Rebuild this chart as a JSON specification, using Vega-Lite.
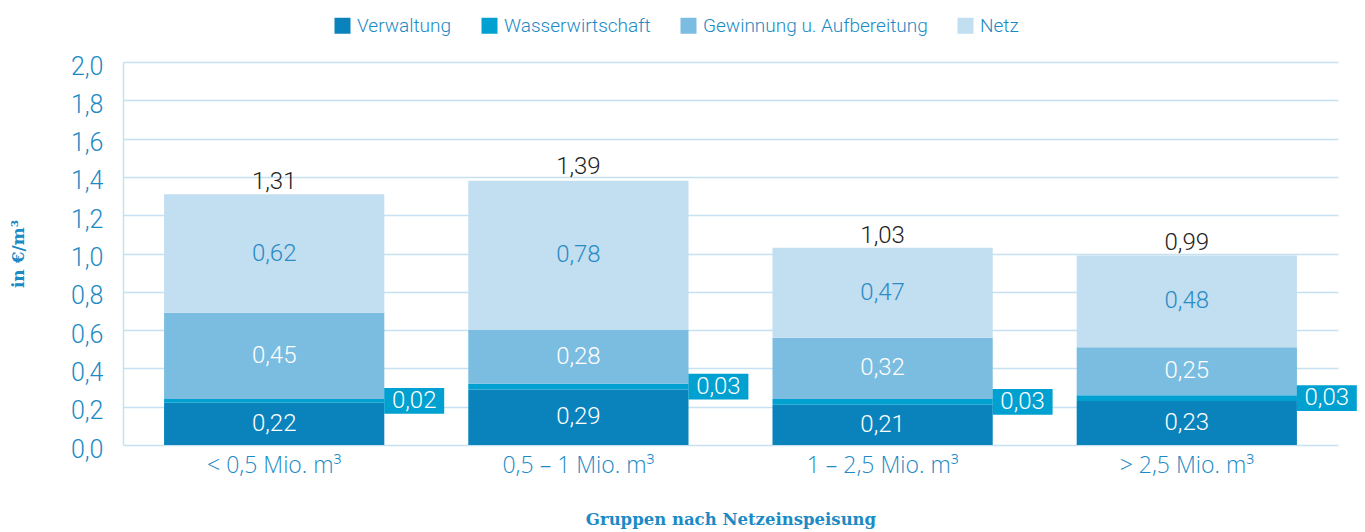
{
  "$schema": "https://vega.github.io/schema/vega-lite/v6.json",
  "width": 1215,
  "height": 383,
  "autosize": "none",
  "padding": {"left": 123, "top": 62, "right": 27, "bottom": 87},
  "background": "white",
  "config": {
    "locale": {"number": {"decimal": ",", "thousands": ".", "grouping": [3], "currency": ["", " €"]}},
    "view": {"stroke": null},
    "font": "Roboto",
    "axisY": {
      "values": [0, 0.2, 0.4, 0.6, 0.8, 1.0, 1.2, 1.4, 1.6, 1.8, 2.0],
      "tickCount": 20,
      "format": ".1f",
      "ticks": false,
      "domain": true,
      "domainColor": "#C8E1F1",
      "domainWidth": 1.5,
      "grid": true,
      "gridColor": "#C8E1F1",
      "gridWidth": 1.5,
      "labelFlush": false,
      "labelOverlap": false,
      "labelFont": "Roboto",
      "labelFontWeight": 300,
      "labelFontSize": 25,
      "labelColor": "#1B8AC5",
      "labelPadding": 20,
      "labelOffset": 4,
      "titleFont": "DejaVu Serif",
      "titleFontWeight": "bold",
      "titleFontSize": 17,
      "titleColor": "#1B8AC5",
      "titlePadding": 43
    }
  },
  "datasets": {
    "parts": [
      {"gruppe": "< 0,5 Mio. m³", "kategorie": "Verwaltung", "ord": 1, "wert": 0.22},
      {"gruppe": "< 0,5 Mio. m³", "kategorie": "Wasserwirtschaft", "ord": 2, "wert": 0.02},
      {"gruppe": "< 0,5 Mio. m³", "kategorie": "Gewinnung u. Aufbereitung", "ord": 3, "wert": 0.45},
      {"gruppe": "< 0,5 Mio. m³", "kategorie": "Netz", "ord": 4, "wert": 0.62},
      {"gruppe": "0,5 – 1 Mio. m³", "kategorie": "Verwaltung", "ord": 1, "wert": 0.29},
      {"gruppe": "0,5 – 1 Mio. m³", "kategorie": "Wasserwirtschaft", "ord": 2, "wert": 0.03},
      {"gruppe": "0,5 – 1 Mio. m³", "kategorie": "Gewinnung u. Aufbereitung", "ord": 3, "wert": 0.28},
      {"gruppe": "0,5 – 1 Mio. m³", "kategorie": "Netz", "ord": 4, "wert": 0.78},
      {"gruppe": "1 – 2,5 Mio. m³", "kategorie": "Verwaltung", "ord": 1, "wert": 0.21},
      {"gruppe": "1 – 2,5 Mio. m³", "kategorie": "Wasserwirtschaft", "ord": 2, "wert": 0.03},
      {"gruppe": "1 – 2,5 Mio. m³", "kategorie": "Gewinnung u. Aufbereitung", "ord": 3, "wert": 0.32},
      {"gruppe": "1 – 2,5 Mio. m³", "kategorie": "Netz", "ord": 4, "wert": 0.47},
      {"gruppe": "> 2,5 Mio. m³", "kategorie": "Verwaltung", "ord": 1, "wert": 0.23},
      {"gruppe": "> 2,5 Mio. m³", "kategorie": "Wasserwirtschaft", "ord": 2, "wert": 0.03},
      {"gruppe": "> 2,5 Mio. m³", "kategorie": "Gewinnung u. Aufbereitung", "ord": 3, "wert": 0.25},
      {"gruppe": "> 2,5 Mio. m³", "kategorie": "Netz", "ord": 4, "wert": 0.48}
    ],
    "totals": [
      {"gruppe": "< 0,5 Mio. m³", "summe": 1.31},
      {"gruppe": "0,5 – 1 Mio. m³", "summe": 1.39},
      {"gruppe": "1 – 2,5 Mio. m³", "summe": 1.03},
      {"gruppe": "> 2,5 Mio. m³", "summe": 0.99}
    ]
  },
  "encoding": {
    "x": {
      "field": "gruppe",
      "type": "nominal",
      "sort": ["< 0,5 Mio. m³", "0,5 – 1 Mio. m³", "1 – 2,5 Mio. m³", "> 2,5 Mio. m³"],
      "scale": {"paddingInner": 0.276, "paddingOuter": 0.135},
      "title": "Gruppen nach Netzeinspeisung",
      "axis": {
        "labelAngle": 0,
        "ticks": false,
        "domain": false,
        "labelFont": "Open Sans",
        "labelFontWeight": 300,
        "labelFontSize": 23,
        "labelColor": "#1B8AC5",
        "labelPadding": 9,
        "labelLimit": 400,
        "titleFont": "DejaVu Serif",
        "titleFontWeight": "bold",
        "titleFontSize": 16.5,
        "titleColor": "#1B8AC5",
        "titlePadding": 34
      }
    }
  },
  "layer": [
    {
      "data": {"name": "parts"},
      "mark": {"type": "bar"},
      "encoding": {
        "y": {
          "field": "wert",
          "type": "quantitative",
          "stack": "zero",
          "scale": {"domain": [0, 2], "nice": false},
          "title": "in €/m³",
          "axis": {"values": [0, 0.2, 0.4, 0.6, 0.8, 1.0, 1.2, 1.4, 1.6, 1.8, 2.0], "tickCount": 20}
        },
        "color": {
          "field": "kategorie",
          "type": "nominal",
          "scale": {
            "domain": ["Verwaltung", "Wasserwirtschaft", "Gewinnung u. Aufbereitung", "Netz"],
            "range": ["#0A83BC", "#00A0D0", "#7ABDE0", "#C2DEF1"]
          },
          "legend": {
            "orient": "none",
            "legendX": 210,
            "legendY": -46,
            "direction": "horizontal",
            "title": null,
            "symbolType": "square",
            "symbolSize": 256,
            "symbolStrokeWidth": 0,
            "symbolOpacity": 1,
            "labelFont": "Roboto",
            "labelFontWeight": 300,
            "labelFontSize": 19,
            "labelLimit": 400,
            "labelColor": "#1B8AC5",
            "labelOffset": 5,
            "columnPadding": 28
          }
        },
        "order": {"field": "ord", "type": "quantitative"}
      }
    },
    {
      "data": {"name": "parts"},
      "mark": {"type": "text", "fontSize": 24, "fontWeight": 300, "font": "Roboto", "baseline": "middle", "align": "center"},
      "encoding": {
        "y": {"field": "wert", "type": "quantitative", "stack": "zero", "bandPosition": 0.5},
        "detail": {"field": "kategorie"},
        "order": {"field": "ord", "type": "quantitative"},
        "text": {
          "field": "wert",
          "format": ".2f",
          "condition": {"test": "datum.kategorie == 'Wasserwirtschaft'", "value": ""}
        },
        "color": {"condition": {"test": "datum.kategorie == 'Netz'", "value": "#2A8CC4"}, "value": "white"}
      }
    },
    {
      "data": {"name": "parts"},
      "mark": {"type": "point", "filled": true, "shape": "M-1,-0.43L1,-0.43L1,0.43L-1,0.43Z", "size": 3600, "xOffset": 140, "color": "#00A0D0", "strokeWidth": 0},
      "encoding": {
        "y": {"field": "wert", "type": "quantitative", "stack": "zero", "bandPosition": 0.5},
        "detail": {"field": "kategorie"},
        "order": {"field": "ord", "type": "quantitative"},
        "opacity": {"condition": {"test": "datum.kategorie == 'Wasserwirtschaft'", "value": 1}, "value": 0}
      }
    },
    {
      "data": {"name": "parts"},
      "mark": {"type": "text", "fontSize": 24, "fontWeight": 300, "font": "Roboto", "baseline": "middle", "align": "center", "xOffset": 140, "color": "white"},
      "encoding": {
        "y": {"field": "wert", "type": "quantitative", "stack": "zero", "bandPosition": 0.5},
        "detail": {"field": "kategorie"},
        "order": {"field": "ord", "type": "quantitative"},
        "text": {
          "field": "wert",
          "format": ".2f",
          "condition": {"test": "datum.kategorie != 'Wasserwirtschaft'", "value": ""}
        }
      }
    },
    {
      "data": {"name": "totals"},
      "mark": {"type": "text", "fontSize": 24, "fontWeight": 300, "font": "Roboto", "baseline": "alphabetic", "align": "center", "dy": -5, "color": "#222222"},
      "encoding": {
        "y": {"field": "summe", "type": "quantitative"},
        "text": {"field": "summe", "format": ".2f"}
      }
    }
  ]
}
